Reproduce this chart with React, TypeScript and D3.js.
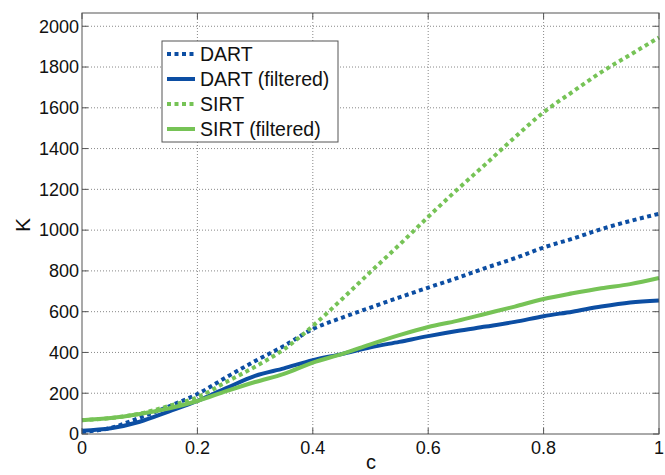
import React from "react";
import * as d3 from "d3";

const cValues = [0, 0.05, 0.1, 0.15, 0.2, 0.25, 0.3, 0.35, 0.4, 0.45, 0.5, 0.55, 0.6, 0.65, 0.7, 0.75, 0.8, 0.85, 0.9, 0.95, 1];
const dart = [10, 30, 80, 135, 196, 278, 358, 432, 515, 570, 620, 670, 718, 765, 815, 862, 915, 958, 1005, 1045, 1080];
const dartFiltered = [16, 28, 60, 110, 162, 225, 285, 322, 362, 392, 425, 452, 480, 505, 527, 550, 578, 600, 625, 645, 655];
const sirt = [68, 78, 100, 137, 180, 255, 330, 415, 530, 660, 795, 928, 1065, 1198, 1325, 1455, 1578, 1678, 1775, 1860, 1945];
const sirtFiltered = [68, 78, 98, 125, 162, 210, 255, 295, 350, 392, 440, 485, 525, 555, 590, 625, 662, 690, 715, 735, 765];

const xTicks = [0, 0.2, 0.4, 0.6, 0.8, 1];
const yTicks = [0, 200, 400, 600, 800, 1000, 1200, 1400, 1600, 1800, 2000];

const BLUE = "#0c4ea3";
const GREEN = "#76c356";

const seriesList = [
  { name: "DART", values: dart, color: BLUE, dotted: true },
  { name: "DART (filtered)", values: dartFiltered, color: BLUE, dotted: false },
  { name: "SIRT", values: sirt, color: GREEN, dotted: true },
  { name: "SIRT (filtered)", values: sirtFiltered, color: GREEN, dotted: false },
];

export default function App() {
  const W = 665, H = 475;
  const L = 82, R = 659, T = 13, B = 434;
  const x = d3.scaleLinear().domain([0, 1]).range([L, R]);
  const y = d3.scaleLinear().domain([0, 2065]).range([B, T]);
  const line = d3
    .line<number>()
    .x((_, i) => x(cValues[i]))
    .y((d) => y(d))
    .curve(d3.curveMonotoneX);
  const font = "Liberation Sans, Arial, Helvetica, sans-serif";
  const axisColor = "#555";
  const tickLen = 6;

  return (
    <svg width={W} height={H} style={{ position: "absolute", left: 0, top: 0 }} fontFamily={font}>
      <rect x={0} y={0} width={W} height={H} fill="#fff" />
      {/* grid */}
      {xTicks.slice(1, -1).map((t) => (
        <line key={"gx" + t} x1={x(t)} x2={x(t)} y1={T} y2={B} stroke="#888" strokeWidth={1} strokeDasharray="1,2" />
      ))}
      {yTicks.slice(1).map((t) => (
        <line key={"gy" + t} x1={L} x2={R} y1={y(t)} y2={y(t)} stroke="#888" strokeWidth={1} strokeDasharray="1,2" />
      ))}
      {/* ticks */}
      {xTicks.map((t) => (
        <g key={"tx" + t}>
          <line x1={x(t)} x2={x(t)} y1={B} y2={B - tickLen} stroke={axisColor} />
          <line x1={x(t)} x2={x(t)} y1={T} y2={T + tickLen} stroke={axisColor} />
          <text x={x(t)} y={454} textAnchor="middle" fontSize={18} fill="#111">
            {String(t)}
          </text>
        </g>
      ))}
      {yTicks.map((t) => (
        <g key={"ty" + t}>
          <line x1={L} x2={L + tickLen} y1={y(t)} y2={y(t)} stroke={axisColor} />
          <line x1={R} x2={R - tickLen} y1={y(t)} y2={y(t)} stroke={axisColor} />
          <text x={79} y={y(t)} dy="0.35em" textAnchor="end" fontSize={18} fill="#111">
            {String(t)}
          </text>
        </g>
      ))}
      {/* series */}
      {seriesList.map((s) => (
        <path
          key={s.name}
          d={line(s.values) || ""}
          fill="none"
          stroke={s.color}
          strokeWidth={4}
          strokeDasharray={s.dotted ? "4,3.5" : undefined}
          strokeLinejoin="round"
        />
      ))}
      {/* box */}
      <rect x={L} y={T} width={R - L} height={B - T} fill="none" stroke={axisColor} strokeWidth={1} />
      {/* legend */}
      <rect x={162} y={41} width={176} height={101} fill="#fff" stroke={axisColor} strokeWidth={1} />
      {seriesList.map((s, i) => {
        const ly = 54 + i * 25;
        return (
          <g key={"lg" + s.name}>
            <line x1={167} x2={195} y1={ly} y2={ly} stroke={s.color} strokeWidth={4} strokeDasharray={s.dotted ? "4,3.5" : undefined} />
            <text x={200} y={ly} dy="0.36em" fontSize={19.5} fill="#111">
              {s.name}
            </text>
          </g>
        );
      })}
      {/* axis labels */}
      <text x={371} y={469} textAnchor="middle" fontSize={20} fill="#111">c</text>
      <text transform="translate(30,225) rotate(-90)" textAnchor="middle" fontSize={21} fill="#111">K</text>
    </svg>
  );
}
